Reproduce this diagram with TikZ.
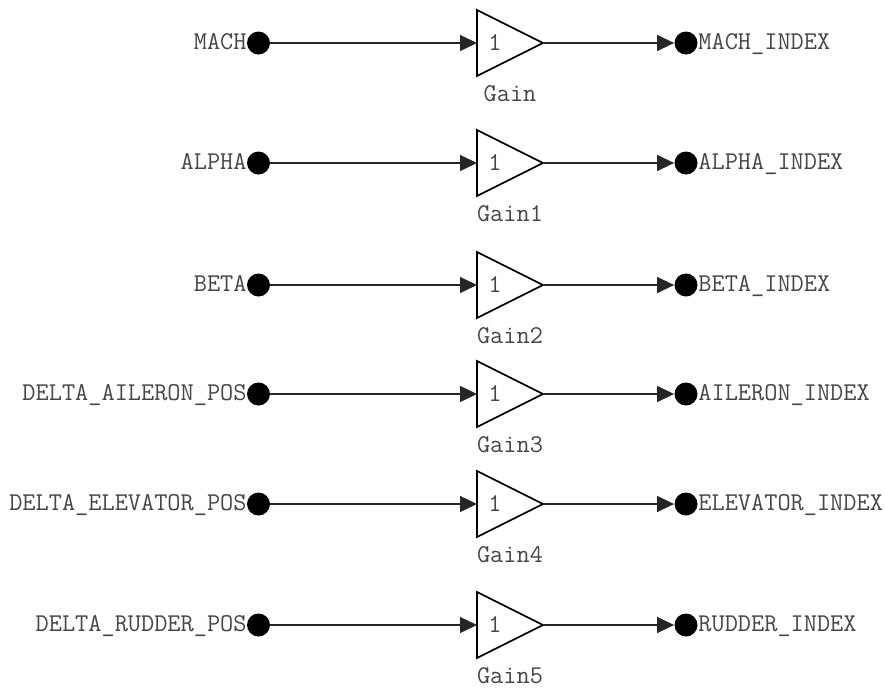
\documentclass[tikz,border=0pt]{standalone}
\usetikzlibrary{arrows.meta}
\definecolor{txt}{RGB}{70,70,70}
\begin{document}
\begin{tikzpicture}[x=0.5pt,y=-0.5pt,
  lbl/.style={font=\ttfamily\fontsize{12.8}{14}\selectfont, text=txt, inner sep=0pt},
  port/.style={circle, fill=black, minimum size=11.5pt, inner sep=0pt},
  wire/.style={line width=0.7pt, draw=black!85, -{Triangle[length=8.5pt,width=8pt]}},
  gainbox/.style={line width=0.8pt, draw=black, fill=white}]
\useasboundingbox (0,0) rectangle (885,687);
\foreach \y/\inp/\outp/\g/\k in {43/MACH/MACH\_INDEX/Gain/a, 163/ALPHA/ALPHA\_INDEX/Gain1/b, 285/BETA/BETA\_INDEX/Gain2/c, 394/DELTA\_AILERON\_POS/AILERON\_INDEX/Gain3/d, 504/DELTA\_ELEVATOR\_POS/ELEVATOR\_INDEX/Gain4/e, 625/DELTA\_RUDDER\_POS/RUDDER\_INDEX/Gain5/f}{
  \node[port] (in\k) at (258.5,\y) {};
  \node[lbl, anchor=base east] (inl\k) at (247,\y+6) {\inp};
  \draw[gainbox] (477,\y-33) -- (477,\y+33) -- (543,\y) -- cycle;
  \coordinate (gin\k) at (477,\y);
  \coordinate (gout\k) at (543,\y);
  \node[lbl, anchor=base] (one\k) at (495,\y+7) {1};
  \node[lbl, anchor=base] (gl\k) at (510,\y+58) {\g};
  \node[port] (out\k) at (686,\y) {};
  \node[lbl, anchor=base west] (outl\k) at (698,\y+6) {\outp};
  \draw[wire] (in\k) -- (gin\k);
  \draw[wire] (gout\k) -- (out\k.west);
}
\end{tikzpicture}
\end{document}
